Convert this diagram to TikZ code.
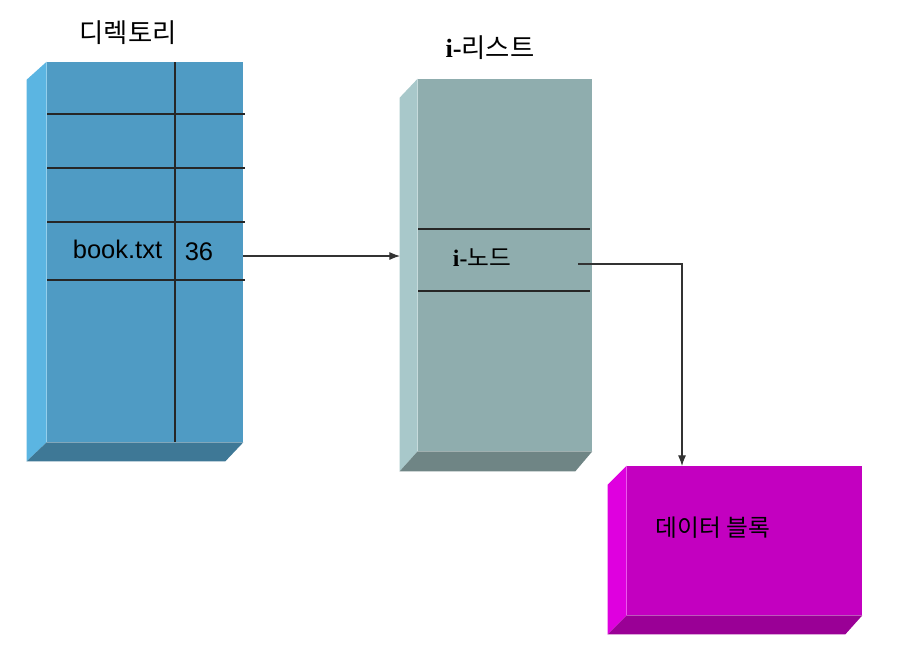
\documentclass[tikz,border=0pt]{standalone}
\usepackage{fontspec}
\setmainfont{Liberation Sans}
\newfontfamily\krfont{Noto Sans CJK KR}
\newfontfamily\serifi{Liberation Serif}
\usetikzlibrary{positioning, arrows.meta, calc}

\definecolor{dirfront}{RGB}{79,155,196}
\definecolor{dirside}{RGB}{91,181,226}
\definecolor{dirbottom}{RGB}{62,120,150}
\definecolor{listfront}{RGB}{143,173,174}
\definecolor{listside}{RGB}{168,200,202}
\definecolor{listbottom}{RGB}{111,133,133}
\definecolor{blockfront}{RGB}{195,0,192}
\definecolor{blockside}{RGB}{223,0,223}
\definecolor{blockbottom}{RGB}{154,0,150}

\begin{document}
\begin{tikzpicture}[
    x=0.02cm, y=-0.02cm,
    front/.style={rectangle, inner sep=0pt, draw=none},
    title/.style={font=\krfont\fontsize{15}{18}\selectfont},
    celltext/.style={anchor=base, font=\fontsize{14.5}{16}\selectfont},
    boxtext/.style={font=\fontsize{13.5}{16}\selectfont},
    rule/.style={black!85, line width=0.6pt},
    arrow/.style={-{Latex[length=6pt, width=4.5pt]}, black!80, line width=0.6pt}
]
\useasboundingbox (0,0) rectangle (899,663);

% Directory
\node[front, fill=dirfront, minimum width=3.92cm, minimum height=7.6cm] (dir) at (145,252) {};
\fill[dirside] (dir.north west) -- (dir.south west) -- ++(-20,19) -- ($(dir.north west)+(-20,18)$) -- cycle;
\fill[dirbottom] (dir.south west) -- (dir.south east) -- ++(-18,19) -- ($(dir.south west)+(-20,19)$) -- cycle;
\foreach \y in {114,168,222,280}
    \draw[rule] (47,\y) -- (245,\y);
\draw[rule] (175,62) -- (175,442);
\node[title] (dirtitle) at (128,33) {디렉토리};
\node[celltext] (fname) at (117.5,258) {book.txt};
\node[celltext] (inum) at (199,260) {36};

% i-list
\node[front, fill=listfront, minimum width=3.48cm, minimum height=7.44cm] (ilist) at (505,265) {};
\fill[listside] (ilist.north west) -- (ilist.south west) -- ++(-18,20) -- ($(ilist.north west)+(-18,19)$) -- cycle;
\fill[listbottom] (ilist.south west) -- (ilist.south east) -- ++(-17,20) -- ($(ilist.south west)+(-18,20)$) -- cycle;
\foreach \y in {229,291}
    \draw[rule] (418,\y) -- (590,\y);
\node[title] (listtitle) at (490,48) {{\serifi\bfseries i-}리스트};
\node[boxtext] (inode) at (482,258) {{\serifi\bfseries i-}{\krfont 노드}};

% Data block
\node[front, fill=blockfront, minimum width=4.7cm, minimum height=2.98cm] (block) at (744.5,540.5) {};
\fill[blockside] (block.north west) -- (block.south west) -- ++(-19,19) -- ($(block.north west)+(-19,19)$) -- cycle;
\fill[blockbottom] (block.south west) -- (block.south east) -- ++(-17,19) -- ($(block.south west)+(-19,19)$) -- cycle;
\node[boxtext, font=\krfont\fontsize{13.5}{16}\selectfont] (blocktext) at (713,528) {데이터 블록};

% Connectors
\coordinate (rowout) at (243,256);
\coordinate (listin) at (400,256);
\coordinate (inodeout) at (578,264);
\coordinate (blockin) at (682,466);
\draw[arrow] (rowout) -- (listin);
\draw[arrow] (inodeout) -| (blockin);

\end{tikzpicture}
\end{document}
